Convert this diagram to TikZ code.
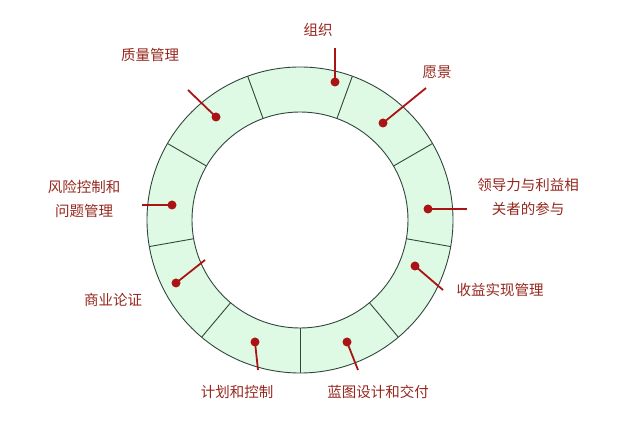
\documentclass[tikz,border=0pt]{standalone}
\usepackage{fontspec}
\setmainfont{Noto Sans CJK SC}
\definecolor{ringfill}{RGB}{222,250,228}
\definecolor{ringline}{RGB}{50,70,60}
\definecolor{tagred}{RGB}{170,20,20}
\definecolor{textred}{RGB}{150,40,30}
\tikzset{
  lbl/.style={text=textred,font=\fontsize{14.5}{24}\selectfont,align=center},
  tag/.style={draw=tagred,line width=1.8pt},
}
\begin{document}
\begin{tikzpicture}[x=1pt,y=-1pt]
	\useasboundingbox (0,0) rectangle (640,435);
	\fill[white] (0,0) rectangle (640,435);
	\draw[ringline,line width=0.9pt,fill=ringfill,even odd rule] (300,220) circle(153) (300,220) circle(108);
	\foreach \a in {30,70,...,350} \draw[ringline,line width=0.9pt,shift={(300,220)}] (-\a:108) -- (-\a:153);
	% labels
	\node[lbl] (org) at (318,30) {组织};
	\node[lbl] (vis) at (437,72) {愿景};
	\node[lbl] (qua) at (150,55) {质量管理};
	\node[lbl] (lead) at (528,197) {领导力与利益相\\关者的参与};
	\node[lbl] (risk) at (84,199) {风险控制和\\问题管理};
	\node[lbl] (ben) at (500,290) {收益实现管理};
	\node[lbl] (bus) at (113,300) {商业论证};
	\node[lbl] (blue) at (378,392) {蓝图设计和交付};
	\node[lbl] (plan) at (237,392) {计划和控制};
	% pointers
	\foreach \px/\py/\qx/\qy in {335/82/335/48, 383/123/426/88, 216/117/188/90, 428/209/467/209,
	  172/205/142/205, 415/266/443/290, 176/283/205/260, 347/342/358/370, 255/342/258/370}{
	  \draw[tag] (\px,\py) -- (\qx,\qy);
	  \fill[tagred] (\px,\py) circle(4.5);
	}
\end{tikzpicture}
\end{document}
